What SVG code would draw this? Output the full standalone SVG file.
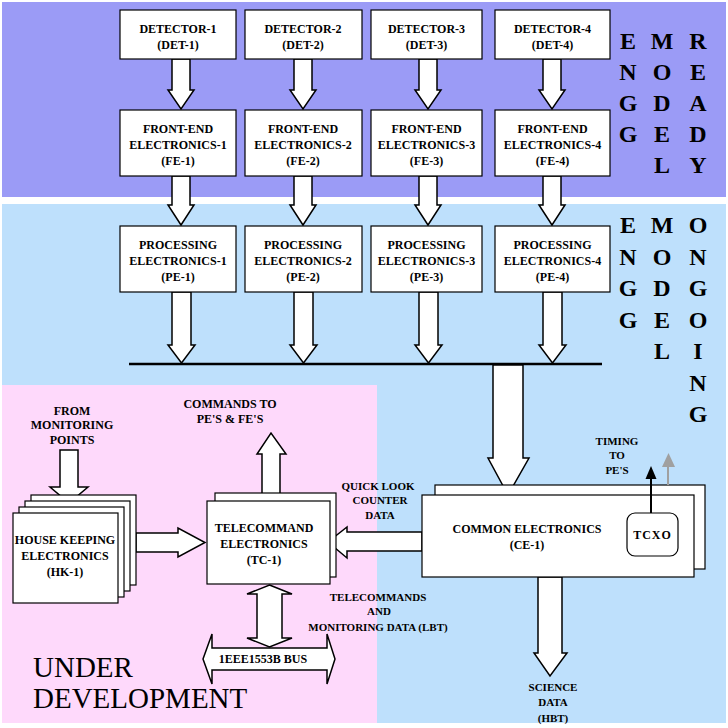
<svg xmlns="http://www.w3.org/2000/svg" width="728" height="728" viewBox="0 0 728 728">
<style>
.box{fill:#fff;stroke:#000;stroke-width:1.2}
.arr{fill:#fff;stroke:#000;stroke-width:1.5;stroke-linejoin:miter}
.t{font-family:'Liberation Serif','Times New Roman','DejaVu Serif',serif;font-weight:bold;font-size:12px;fill:#000;text-anchor:middle}
.s{font-size:11px}
.big{font-family:'Liberation Serif','Times New Roman','DejaVu Serif',serif;font-weight:bold;font-size:24px;fill:#000;text-anchor:middle}
.ud{font-family:'Liberation Serif','Times New Roman','DejaVu Serif',serif;font-size:29px;fill:#000}
</style>
<rect x="0" y="0" width="728" height="728" fill="#fff"/>
<g id="backgrounds">
<rect x="2" y="2" width="724" height="195" fill="#9b9bf6"/>
<rect x="2" y="204" width="724" height="519" fill="#bee0fc"/>
<rect x="2" y="385" width="375" height="338" fill="#fed9fb"/>
</g>
<g id="side-labels">
<text class="big" x="628" y="49">E</text><text class="big" x="628" y="80">N</text><text class="big" x="628" y="111">G</text><text class="big" x="628" y="142">G</text>
<text class="big" x="662" y="49">M</text><text class="big" x="662" y="80">O</text><text class="big" x="662" y="111">D</text><text class="big" x="662" y="142">E</text><text class="big" x="662" y="173">L</text>
<text class="big" x="698" y="49">R</text><text class="big" x="698" y="80">E</text><text class="big" x="698" y="111">A</text><text class="big" x="698" y="142">D</text><text class="big" x="698" y="173">Y</text>
<text class="big" x="628" y="233">E</text><text class="big" x="628" y="265">N</text><text class="big" x="628" y="296">G</text><text class="big" x="628" y="328">G</text>
<text class="big" x="662" y="233">M</text><text class="big" x="662" y="265">O</text><text class="big" x="662" y="296">D</text><text class="big" x="662" y="328">E</text><text class="big" x="662" y="359">L</text>
<text class="big" x="698" y="233">O</text><text class="big" x="698" y="265">N</text><text class="big" x="698" y="296">G</text><text class="big" x="698" y="328">O</text><text class="big" x="698" y="359">I</text><text class="big" x="698" y="391">N</text><text class="big" x="698" y="422">G</text>
<text class="ud" x="33" y="677">UNDER</text>
<text class="ud" x="33" y="708">DEVELOPMENT</text>
</g>
<g id="connectors">
<path class="arr" d="M172,59 L190,59 L190,90 L194,90 L181,109 L168,90 L172,90 Z"/>
<path class="arr" d="M294,59 L312,59 L312,90 L316,90 L303,109 L290,90 L294,90 Z"/>
<path class="arr" d="M419,59 L437,59 L437,90 L441,90 L428,109 L415,90 L419,90 Z"/>
<path class="arr" d="M543,59 L561,59 L561,90 L565,90 L552,109 L539,90 L543,90 Z"/>
<path class="arr" d="M172,176 L190,176 L190,205 L194,205 L181,225 L168,205 L172,205 Z"/>
<path class="arr" d="M294,176 L312,176 L312,205 L316,205 L303,225 L290,205 L294,205 Z"/>
<path class="arr" d="M419,176 L437,176 L437,205 L441,205 L428,225 L415,205 L419,205 Z"/>
<path class="arr" d="M543,176 L561,176 L561,205 L565,205 L552,225 L539,205 L543,205 Z"/>
<path class="arr" d="M172,292 L191,292 L191,345 L195,345 L181.5,363 L168,345 L172,345 Z"/>
<path class="arr" d="M294,292 L313,292 L313,345 L317,345 L303.5,363 L290,345 L294,345 Z"/>
<path class="arr" d="M419,292 L438,292 L438,345 L442,345 L428.5,363 L415,345 L419,345 Z"/>
<path class="arr" d="M543,292 L562,292 L562,345 L566,345 L552.5,363 L539,345 L543,345 Z"/>
<line x1="129" y1="364" x2="602" y2="364" stroke="#000" stroke-width="2.5"/>
<path class="arr" d="M493,365 L523,365 L523,458 L529,458 L508,495 L488,458 L493,458 Z"/>
<path class="arr" d="M538,577 L562,577 L562,653 L567,653 L550,676 L534,653 L538,653 Z"/>
<path class="arr" d="M60,450 L78,450 L78,487 L88,487 L69,503 L50,487 L60,487 Z"/>
<path class="arr" d="M262,501 L280,501 L280,454 L286,454 L271,433 L257,454 L262,454 Z"/>
<path class="arr" d="M136,533 L178,533 L178,528 L205,542.5 L178,557 L178,552 L136,552 Z"/>
<path class="arr" d="M422,532 L347,532 L347,527 L328,542 L347,558 L347,551 L422,551 Z"/>
<path class="arr" d="M203,659 L212,634 L212,648 L327,648 L327,634 L335,659 L327,684 L327,670 L212,670 L212,684 Z"/>
<path class="arr" d="M269.5,585 L292,594 L282,594 L282,638 L292,638 L269.5,647 L247,638 L257,638 L257,594 L247,594 Z"/>
</g>
<g id="det-1"><rect class="box" x="120" y="10" width="116" height="49"/><text class="t" x="178" y="33">DETECTOR-1</text><text class="t" x="178" y="49">(DET-1)</text></g>
<g id="det-2"><rect class="box" x="245" y="10" width="117" height="49"/><text class="t" x="303" y="33">DETECTOR-2</text><text class="t" x="303" y="49">(DET-2)</text></g>
<g id="det-3"><rect class="box" x="371" y="10" width="111" height="49"/><text class="t" x="426.5" y="33">DETECTOR-3</text><text class="t" x="426.5" y="49">(DET-3)</text></g>
<g id="det-4"><rect class="box" x="495" y="10" width="115" height="49"/><text class="t" x="552.5" y="33">DETECTOR-4</text><text class="t" x="552.5" y="49">(DET-4)</text></g>
<g id="fe-1"><rect class="box" x="120" y="110" width="116" height="66"/><text class="t" x="178" y="133">FRONT-END</text><text class="t" x="178" y="149">ELECTRONICS-1</text><text class="t" x="178" y="165">(FE-1)</text></g>
<g id="fe-2"><rect class="box" x="245" y="110" width="117" height="66"/><text class="t" x="303" y="133">FRONT-END</text><text class="t" x="303" y="149">ELECTRONICS-2</text><text class="t" x="303" y="165">(FE-2)</text></g>
<g id="fe-3"><rect class="box" x="371" y="110" width="111" height="66"/><text class="t" x="426.5" y="133">FRONT-END</text><text class="t" x="426.5" y="149">ELECTRONICS-3</text><text class="t" x="426.5" y="165">(FE-3)</text></g>
<g id="fe-4"><rect class="box" x="495" y="110" width="115" height="66"/><text class="t" x="552.5" y="133">FRONT-END</text><text class="t" x="552.5" y="149">ELECTRONICS-4</text><text class="t" x="552.5" y="165">(FE-4)</text></g>
<g id="pe-1"><rect class="box" x="120" y="226" width="116" height="66"/><text class="t" x="178" y="249">PROCESSING</text><text class="t" x="178" y="265">ELECTRONICS-1</text><text class="t" x="178" y="281">(PE-1)</text></g>
<g id="pe-2"><rect class="box" x="245" y="226" width="117" height="66"/><text class="t" x="303" y="249">PROCESSING</text><text class="t" x="303" y="265">ELECTRONICS-2</text><text class="t" x="303" y="281">(PE-2)</text></g>
<g id="pe-3"><rect class="box" x="371" y="226" width="111" height="66"/><text class="t" x="426.5" y="249">PROCESSING</text><text class="t" x="426.5" y="265">ELECTRONICS-3</text><text class="t" x="426.5" y="281">(PE-3)</text></g>
<g id="pe-4"><rect class="box" x="495" y="226" width="115" height="66"/><text class="t" x="552.5" y="249">PROCESSING</text><text class="t" x="552.5" y="265">ELECTRONICS-4</text><text class="t" x="552.5" y="281">(PE-4)</text></g>
<g id="hk-1">
<rect class="box" x="31" y="495" width="105" height="90"/>
<rect class="box" x="25" y="501" width="105" height="90"/>
<rect class="box" x="19" y="507" width="105" height="90"/>
<rect class="box" x="13" y="513" width="105" height="90"/>
<text class="t" x="65" y="544">HOUSE KEEPING</text><text class="t" x="65" y="560">ELECTRONICS</text><text class="t" x="65" y="576">(HK-1)</text>
</g>
<g id="tc-1">
<rect class="box" x="215" y="493" width="121" height="84"/>
<rect class="box" x="207" y="501" width="123" height="83"/>
<text class="t" x="264" y="532">TELECOMMAND</text><text class="t" x="264" y="548">ELECTRONICS</text><text class="t" x="264" y="564">(TC-1)</text>
</g>
<g id="ce-1">
<rect class="box" x="435" y="485" width="270" height="84"/>
<rect class="box" x="422" y="495" width="272" height="82"/>
<text class="t" x="527" y="533">COMMON ELECTRONICS</text><text class="t" x="527" y="549">(CE-1)</text>
</g>
<g id="tcxo">
<rect class="box" x="627" y="513" width="51" height="43" rx="8"/>
<text class="t" x="652.5" y="539" letter-spacing="1">TCXO</text>
<line x1="651" y1="513" x2="651" y2="478" stroke="#000" stroke-width="2"/>
<polygon points="645.5,479 656.5,479 651,466" fill="#000"/>
<line x1="668" y1="485" x2="668" y2="466" stroke="#a0a0a0" stroke-width="2"/>
<polygon points="662,467 675,467 668.5,453" fill="#a0a0a0"/>
</g>
<g id="labels">
<text class="t" x="72" y="415">FROM</text><text class="t" x="72" y="429">MONITORING</text><text class="t" x="72" y="444">POINTS</text>
<text class="t" x="230" y="408" text-anchor="start">COMMANDS TO</text><text class="t" x="230" y="423" text-anchor="start">PE'S &amp; FE'S</text>
<text class="t s" x="378" y="490">QUICK LOOK</text><text class="t s" x="380" y="504">COUNTER</text><text class="t s" x="380" y="519">DATA</text>
<text class="t s" x="378" y="601">TELECOMMANDS</text><text class="t s" x="379" y="615">AND</text><text class="t s" x="378" y="631">MONITORING DATA (LBT)</text>
<text class="t" x="263" y="663">1EEE1553B BUS</text>
<text class="t s" x="617" y="445">TIMING</text><text class="t s" x="617" y="459">TO</text><text class="t s" x="617" y="474">PE'S</text>
<text class="t s" x="553" y="691">SCIENCE</text><text class="t s" x="553" y="706">DATA</text><text class="t s" x="553" y="722">(HBT)</text>
</g>
</svg>
